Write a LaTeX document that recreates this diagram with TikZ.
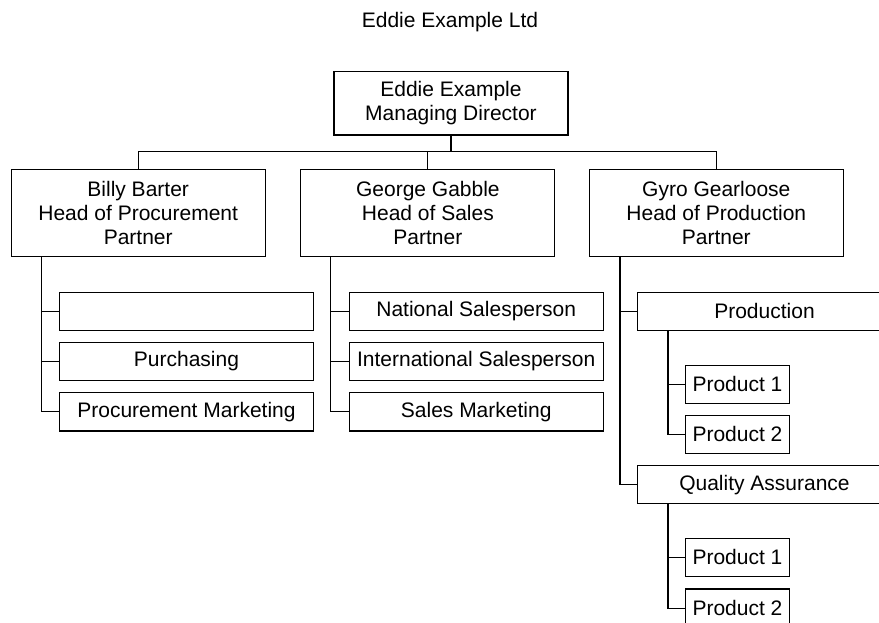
\documentclass[tikz,border=0pt]{standalone}
\usepackage{fontspec}
\setmainfont{Liberation Sans}
\begin{document}
\begin{tikzpicture}[x=1pt,y=-1pt,
  every node/.style={font=\fontsize{21}{24.3}\selectfont},
  box/.style={draw, rectangle, align=center, inner sep=0pt, line width=1.1pt},
  big/.style={box, minimum width=254pt, minimum height=87.4pt},
  small/.style={box, minimum width=254pt, minimum height=38.3pt},
  tiny/.style={box, minimum width=104.4pt, minimum height=38.3pt},
  conn/.style={line width=1.1pt}]
\path[use as bounding box] (0,0) rectangle (879,622);
\clip (0,0) rectangle (879,622);
\node (title) at (450,22) {Eddie Example Ltd};
\node[box, minimum width=234pt, minimum height=63.3pt] (top) at (451,103.3) {Eddie Example\\Managing Director};
\node[big] (billy) at (138.2,213) {Billy Barter\\Head of Procurement\\Partner};
\node[big] (george) at (427.9,213) {George Gabble\\Head of Sales\\Partner};
\node[big] (gyro) at (716.3,213) {Gyro Gearloose\\Head of Production\\Partner};
\node[small] (b1) at (186.5,311.2) {};
\node[small] (b2) at (186.5,361.4) {Purchasing};
\node[small] (b3) at (186.5,411.8) {Procurement Marketing};
\node[small] (g1) at (476.2,311.2) {National Salesperson};
\node[small] (g2) at (476.2,361.4) {International Salesperson};
\node[small] (g3) at (476.2,411.8) {Sales Marketing};
\node[small] (prod) at (764.5,311.2) {Production};
\node[tiny] (p1) at (737.5,384.2) {Product 1};
\node[tiny] (p2) at (737.5,434.2) {Product 2};
\node[small] (qa) at (764.5,484.7) {Quality Assurance};
\node[tiny] (q1) at (737.5,557.3) {Product 1};
\node[tiny] (q2) at (737.5,608.1) {Product 2};
\coordinate (bus) at (451,151.7);
\draw[conn] (top.south) -- (bus);
\draw[conn] (billy.north) |- (bus) -| (gyro.north);
\draw[conn] (george.north) -- (george.north |- bus);
\coordinate (bv) at ([xshift=30.7pt]billy.south west);
\coordinate (gv) at ([xshift=30.5pt]george.south west);
\coordinate (yv) at ([xshift=31.2pt]gyro.south west);
\coordinate (pv) at ([xshift=31pt]prod.south west);
\coordinate (qv) at ([xshift=31pt]qa.south west);
\draw[conn] (bv) |- (b1.west); \draw[conn] (bv) |- (b2.west); \draw[conn] (bv) |- (b3.west);
\draw[conn] (gv) |- (g1.west); \draw[conn] (gv) |- (g2.west); \draw[conn] (gv) |- (g3.west);
\draw[conn] (yv) |- (prod.west); \draw[conn] (yv) |- (qa.west);
\draw[conn] (pv) |- (p1.west); \draw[conn] (pv) |- (p2.west);
\draw[conn] (qv) |- (q1.west); \draw[conn] (qv) |- (q2.west);
\end{tikzpicture}
\end{document}
